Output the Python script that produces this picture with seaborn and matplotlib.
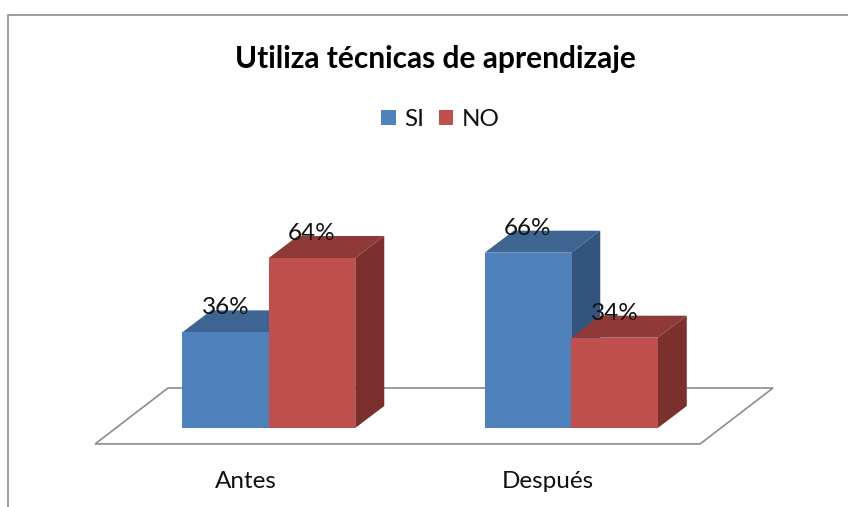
import pandas as pd
import seaborn as sns
import matplotlib.pyplot as plt
from matplotlib.lines import Line2D
from matplotlib.patches import Polygon
from matplotlib.transforms import Affine2D

periodos = ['Antes', 'Después']
series = ['SI', 'NO']
si_valores = [36, 66]
no_valores = [64, 34]

colores = {'SI': '#4F81BD', 'NO': '#C0504D'}
tapa = {'SI': '#3E6592', 'NO': '#8F3A38'}
lado = {'SI': '#32547F', 'NO': '#7B302E'}

W, H = 848, 507
PX_X = 302.5
PX_Y = 2.656
dx = 29 / PX_X
dy = 22 / PX_Y

df = pd.DataFrame({
    'periodo': periodos * 2,
    'serie': ['SI'] * 2 + ['NO'] * 2,
    'valor': si_valores + no_valores,
})

sns.set_style('white')
plt.rcParams['font.family'] = ['Lato', 'DejaVu Sans']

fig = plt.figure(figsize=(W / 100, H / 100), dpi=100)
ax = fig.add_axes([117.5 / W, 79 / H, 605 / W, 212.5 / H])
ax.patch.set_alpha(0)

sns.barplot(df, x='periodo', y='valor', hue='serie', hue_order=series, palette=colores,
            width=0.572, saturation=1, ax=ax, legend=False)
ax.set_xlim(-0.5, 1.5)
ax.set_ylim(0, 80)
sns.despine(ax=ax, left=True, bottom=True)
ax.set_xlabel('')
ax.set_ylabel('')
ax.set_yticks([])
ax.tick_params(axis='x', length=0, labelsize=17.5, pad=31, labelcolor='#111111')
for lab in ax.get_xticklabels():
    lab.set_transform(lab.get_transform() + Affine2D().translate(-23, 0))

# piso
piso = [(-0.574, -6.0), (-0.333, 15.06), (1.667, 15.06), (1.426, -6.0)]
ax.add_patch(Polygon(piso, closed=True, fc='white', ec='#8c8c8c', lw=1.2, clip_on=False, zorder=0.5))

# caras 3D
for i, (serie, cont) in enumerate(zip(series, ax.containers)):
    for bar in cont:
        x0, x1 = bar.get_x(), bar.get_x() + bar.get_width()
        h = bar.get_height()
        z = 2 + i
        bar.set_zorder(z + 0.2)
        bar.set_clip_on(False)
        bar.set_linewidth(0)
        bar.set_edgecolor('none')
        ax.add_patch(Polygon([(x0, h), (x0 + dx, h + dy), (x1 + dx, h + dy), (x1, h)],
                             fc=tapa[serie], ec='none', clip_on=False, zorder=z))
        ax.add_patch(Polygon([(x1, 0), (x1, h), (x1 + dx, h + dy), (x1 + dx, dy)],
                             fc=lado[serie], ec='none', clip_on=False, zorder=z))
        ax.text(x0 + bar.get_width() / 2, h + 24.5 / PX_Y, f'{h:.0f}%', ha='center', va='center',
                fontsize=17.5, color='#111111', zorder=10)

fig.text(435 / W, 1 - 59 / H, 'Utiliza técnicas de aprendizaje', ha='center', va='center',
         fontsize=21.5, fontweight='bold', color='black')

handles = [plt.Rectangle((0, 0), 1, 1, fc=colores[s], ec='none') for s in series]
fig.legend(handles, series, loc='center', bbox_to_anchor=(440.5 / W, 1 - 119.5 / H), ncol=2, frameon=False,
           fontsize=17.5, handlelength=0.6, handleheight=0.6, handletextpad=0.35,
           columnspacing=0.6, labelcolor='#111111')

# marco
fig.add_artist(Line2D([8 / W, 8 / W, 1], [0, 1 - 15 / H, 1 - 15 / H], color='#8c8c8c', lw=1.2))

fig.savefig('out.png', dpi=100)
